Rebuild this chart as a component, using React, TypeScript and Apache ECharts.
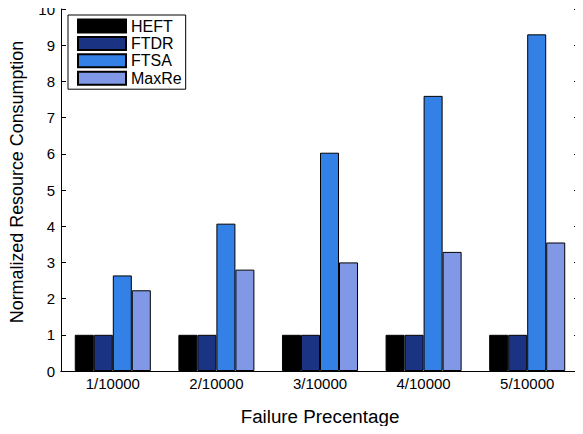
import React, { useEffect, useRef } from "react";
import * as echarts from "echarts";

const categories = ["1/10000", "2/10000", "3/10000", "4/10000", "5/10000"];
const seriesNames = ["HEFT", "FTDR", "FTSA", "MaxRe"];
const heftValues = [1, 1, 1, 1, 1];
const ftdrValues = [1, 1, 1, 1, 1];
const ftsaValues = [2.64, 4.07, 6.03, 7.6, 9.3];
const maxreValues = [2.23, 2.8, 3.0, 3.29, 3.55];
const colors = ["#000000", "#1a3382", "#3380e6", "#8098e6"];

const FONT = "Liberation Sans, Arial, Helvetica, sans-serif";

export default function App() {
  const ref = useRef<HTMLDivElement>(null);
  useEffect(() => {
    if (!ref.current) return;
    const chart = echarts.init(ref.current, undefined, { renderer: "svg" });
    const values = [heftValues, ftdrValues, ftsaValues, maxreValues];
    chart.setOption({
      animation: false,
      backgroundColor: "#ffffff",
      textStyle: { fontFamily: FONT },
      grid: { left: 61, right: 4, top: 9, bottom: 63, containLabel: false },
      legend: {
        orient: "vertical",
        left: 68,
        top: 15,
        icon: "rect",
        itemWidth: 48,
        itemHeight: 13,
        itemGap: 1.4,
        padding: [3, 4, 3, 9],
        borderColor: "#000",
        borderWidth: 1,
        borderRadius: 0,
        backgroundColor: "#fff",
        textStyle: { fontFamily: FONT, fontSize: 16, lineHeight: 16, color: "#000" },
        data: seriesNames,
      },
      xAxis: [
        {
          type: "category",
          data: categories,
          position: "bottom",
          name: "Failure Precentage",
          nameLocation: "middle",
          nameGap: 36,
          nameTextStyle: { fontFamily: FONT, fontSize: 18.8, color: "#000" },
          axisLine: { lineStyle: { color: "#000", width: 1 } },
          axisTick: { inside: true, alignWithLabel: true, length: 5, lineStyle: { color: "#000" } },
          axisLabel: { fontFamily: FONT, fontSize: 15, color: "#000", margin: 5 },
          splitLine: { show: false },
        },
        {
          type: "category",
          data: categories,
          position: "top",
          axisLine: { lineStyle: { color: "#000", width: 1 } },
          axisTick: { inside: true, alignWithLabel: true, length: 5, lineStyle: { color: "#000" } },
          axisLabel: { show: false },
          splitLine: { show: false },
        },
      ],
      yAxis: [
        {
          type: "value",
          min: 0,
          max: 10,
          interval: 1,
          position: "left",
          name: "Normalized Resource Consumption",
          nameLocation: "middle",
          nameGap: 35,
          nameTextStyle: { fontFamily: FONT, fontSize: 17.9, color: "#000", padding: [0, 0, 0, 16] },
          axisLine: { show: true, lineStyle: { color: "#000", width: 1 } },
          axisTick: { show: true, inside: true, length: 5, lineStyle: { color: "#000" } },
          axisLabel: { fontFamily: FONT, fontSize: 15, color: "#000", margin: 6 },
          splitLine: { show: false },
        },
        {
          type: "value",
          min: 0,
          max: 10,
          interval: 1,
          position: "right",
          axisLine: { show: true, lineStyle: { color: "#000", width: 1 } },
          axisTick: { show: true, inside: true, length: 5, lineStyle: { color: "#000" } },
          axisLabel: { show: false },
          splitLine: { show: false },
        },
      ],
      series: seriesNames.map((name, i) => ({
        name,
        type: "bar",
        xAxisIndex: 0,
        yAxisIndex: 0,
        data: values[i],
        barGap: "0%",
        barCategoryGap: "26.6%",
        itemStyle: { color: colors[i], borderColor: "#000", borderWidth: 1 },
      })),
    });
    return () => chart.dispose();
  }, []);
  return <div ref={ref} style={{ width: 583, height: 434, margin: -8 }} />;
}
